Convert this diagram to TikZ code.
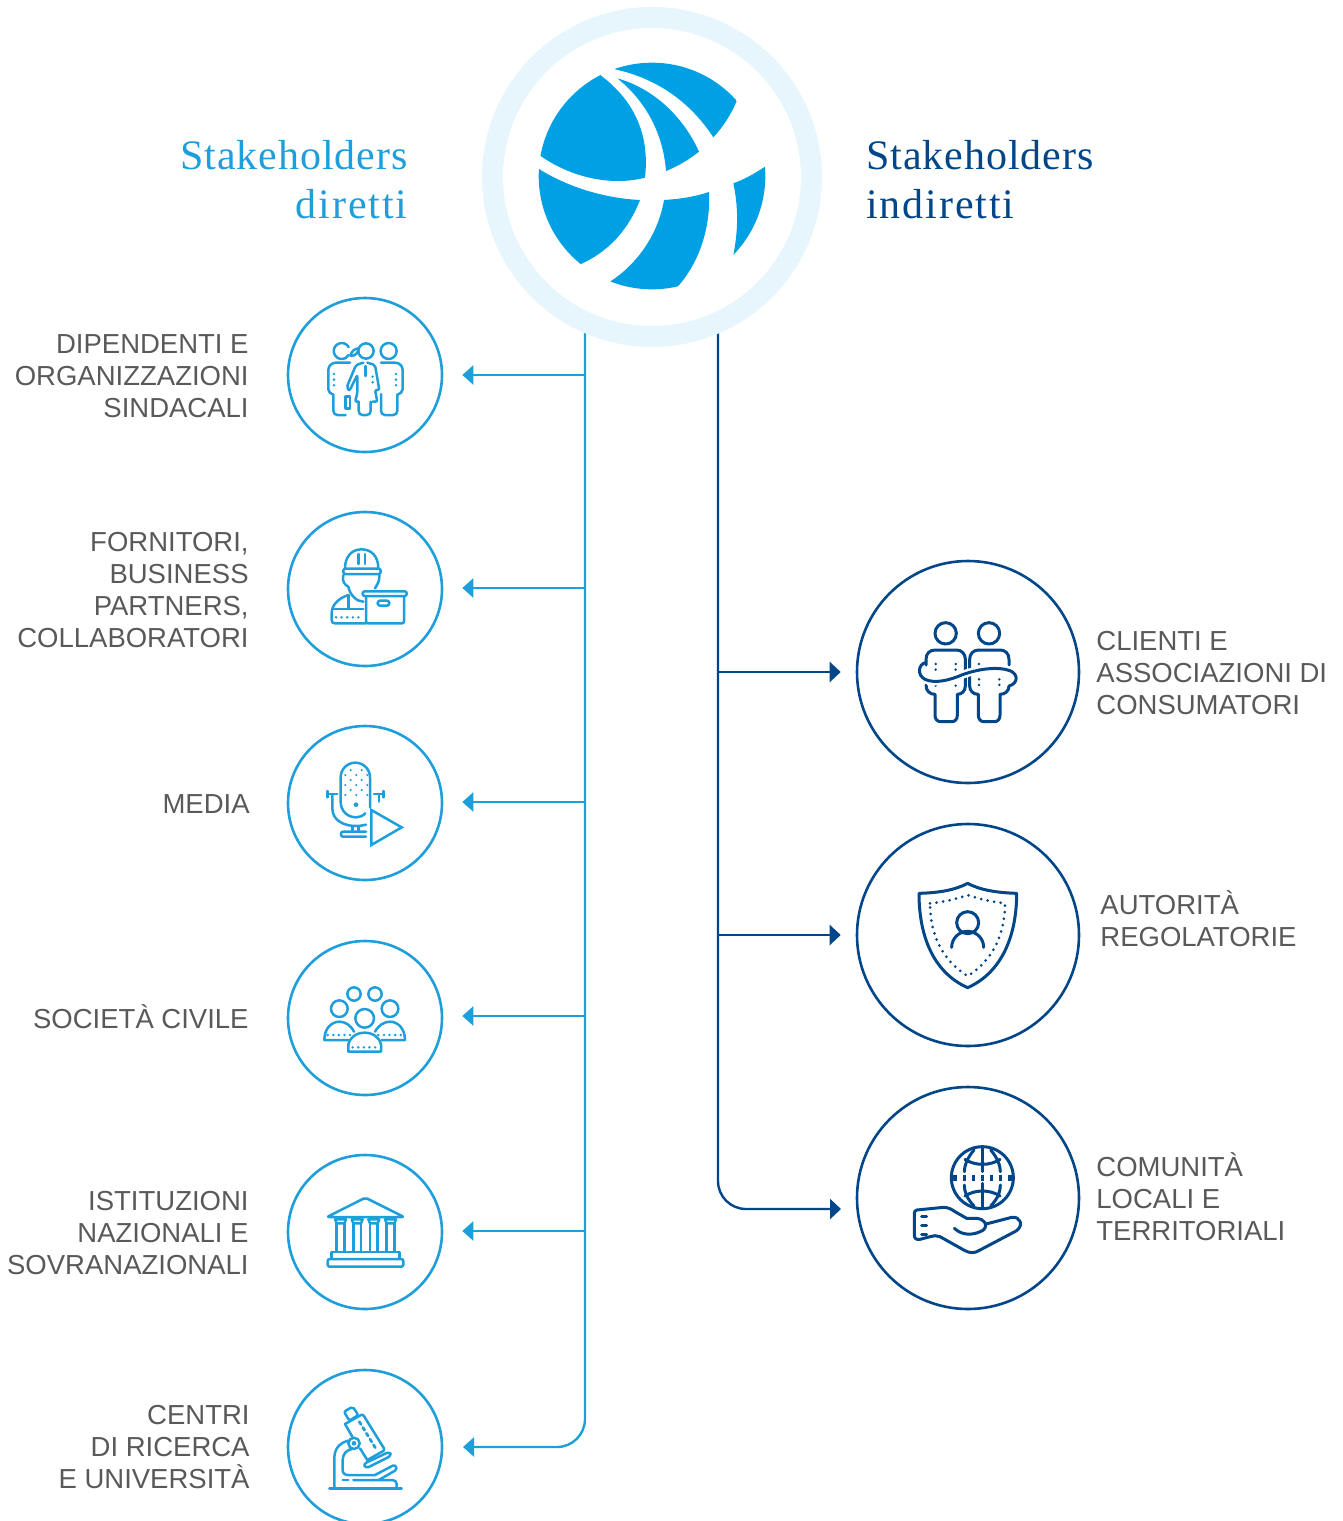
\documentclass[tikz,border=0pt]{standalone}
\usepackage{fontspec}
\setmainfont{Liberation Sans}
\newfontfamily\titolofont[LetterSpace=2.2]{Liberation Serif}
\newfontfamily\sottofont[LetterSpace=4.5]{Liberation Serif}
\usetikzlibrary{arrows.meta,positioning}
\definecolor{celeste}{HTML}{1E9FDB}
\definecolor{blu}{HTML}{004689}
\definecolor{logoblu}{HTML}{00A0E4}
\definecolor{alone}{HTML}{E7F5FD}
\definecolor{grigio}{HTML}{58595B}
\tikzset{
  zoomato/.style 2 args={shift={(#1,#2)},x=0.16667pt,y=-0.16667pt},
  cerchioL/.style={circle,draw=celeste,line width=1.3pt,minimum size=77pt,inner sep=0pt},
  cerchioR/.style={circle,draw=blu,line width=1.3pt,minimum size=111pt,inner sep=0pt},
  anello/.style={circle,draw=alone,line width=10.5pt,minimum size=159.5pt,inner sep=0pt},
  tronco/.style={line width=1.2pt,rounded corners=14pt},
  trattoL/.style={tronco,celeste,-{Triangle[length=5.5pt,width=9.5pt]}},
  trattoR/.style={tronco,blu,-{Triangle[length=5.5pt,width=10pt]}},
  etic/.style={font=\fontsize{13.75}{16}\selectfont,text=grigio,inner sep=0pt},
  eticL/.style={etic,anchor=east,align=right},
  eticR/.style={etic,anchor=west,align=left},
  titolo/.style={font=\fontsize{21}{24.5}\selectfont,inner sep=0pt},
  iconaL/.style={draw=celeste,line width=1.25pt,line cap=round,line join=round},
  iconaR/.style={draw=blu,line width=1.5pt,line cap=round,line join=round},
  puntini/.style={line width=1.4pt,line cap=round,dash pattern=on 0pt off 2.8pt},
}
\begin{document}
\begin{tikzpicture}[x=0.5pt,y=-0.5pt]
\useasboundingbox (0,0) rectangle (1343,1521);

% Tronchi
\coordinate (attL) at (585,333);
\coordinate (attR) at (718,333);
\coordinate (puntaL) at (463,1447);
\coordinate (puntaR) at (841,1209);
\draw[trattoL] (attL) -- (attL |- puntaL) -- (puntaL);
\draw[trattoR] (attR) -- (attR |- puntaR) -- (puntaR);

% Anello e logo
\node[anello] (alo) at (652,177) {};
\begin{scope}[zoomato={470}{0}]
  \clip (546,528) circle (340);
  \fill[logoblu] (435,208) .. controls (560,235) and (660,305) .. (730,412) .. controls (760,380) and (785,340) .. (800,303) -- (800,100) -- (435,100) -- cycle;
  \fill[logoblu] (442,235) .. controls (550,265) and (640,350) .. (687,455) .. controls (655,480) and (625,498) .. (588,513) .. controls (580,405) and (530,305) .. (442,235);
  \fill[logoblu] (392,226) -- (392,100) -- (100,100) -- (100,468) -- (212,468) .. controls (300,530) and (420,560) .. (525,533) .. controls (540,400) and (490,300) .. (392,226);
  \fill[logoblu] (207,507) .. controls (300,565) and (410,595) .. (510,600) .. controls (475,690) and (415,755) .. (333,792) -- (100,792) -- (100,507) -- cycle;
  \fill[logoblu] (582,600) .. controls (630,597) and (675,590) .. (717,576) .. controls (722,680) and (690,785) .. (623,860) -- (623,950) -- (420,950) -- (420,845) .. controls (505,790) and (565,700) .. (582,600);
  \fill[logoblu] (790,550) .. controls (825,537) and (855,520) .. (885,500) -- (950,500) -- (950,765) -- (790,765) .. controls (805,690) and (805,620) .. (790,550);
\end{scope}

% Titoli
\node[titolo,text=celeste,anchor=east,align=right] (titL) at (408,180) {{\titolofont Stakeholders}\\{\sottofont diretti}};
\node[titolo,text=blu,anchor=west,align=left] (titR) at (866,180) {{\titolofont Stakeholders}\\{\sottofont indiretti}};

% Cerchi di sinistra
\foreach \nome/\y/\yb in {dip/375/375,forn/589/588,media/803/802,soc/1018/1016,ist/1232/1231,cen/1447/1447} {
  \node[cerchioL] (\nome) at (365,\y) {};
  \coordinate (t\nome) at (585,\yb);
}
\foreach \nome in {dip,forn,media,soc,ist}
  \draw[trattoL,shorten >=9.5pt] (t\nome) -- (t\nome -| \nome.east);

% Cerchi di destra
\foreach \nome/\y in {cli/672,aut/935,com/1198} {
  \node[cerchioR] (\nome) at (968,\y) {};
}
\coordinate (tcli) at (718,672);
\coordinate (taut) at (718,935);
\draw[trattoR,shorten >=7.5pt] (tcli) -- (cli);
\draw[trattoR,shorten >=7.5pt] (taut) -- (aut);

% Etichette
\node[eticL] (eDip) at (249,376) {DIPENDENTI E\\ORGANIZZAZIONI\\SINDACALI};
\node[eticL] (eForn) at (249,590) {FORNITORI,\\BUSINESS\\PARTNERS,\\COLLABORATORI};
\node[eticL] (eMedia) at (250,804) {MEDIA};
\node[eticL] (eSoc) at (249,1017) {SOCIETÀ CIVILE};
\node[eticL] (eIst) at (249,1233) {ISTITUZIONI\\NAZIONALI E\\SOVRANAZIONALI};
\node[eticL] (eCen) at (250,1447) {CENTRI\\DI RICERCA\\E UNIVERSITÀ};
\node[eticR] (eCli) at (1096,673) {CLIENTI E\\ASSOCIAZIONI DI\\CONSUMATORI};
\node[eticR] (eAut) at (1100,919) {AUTORITÀ\\REGOLATORIE};
\node[eticR] (eCom) at (1096,1197) {COMUNITÀ\\LOCALI E\\TERRITORIALI};

% Icona dipendenti
\begin{scope}[zoomato={280}{290},iconaL]
  \draw (206,171) arc[start angle=-30,end angle=-330,radius=24];
  \draw (258,183) circle (23);
  \draw (326,183) circle (24);
  \draw (212,198) .. controls (212,185) and (225,175) .. (236,175) .. controls (236,188) and (225,198) .. (212,198);
  \draw (210,218) -- (168,218) .. controls (155,218) and (145,228) .. (145,240) -- (145,298) .. controls (145,306) and (152,312) .. (160,314) -- (160,362) .. controls (160,370) and (165,375) .. (172,375) -- (197,375);
  \draw (196,320) rectangle (210,355);
  \draw[rounded corners=1pt] (250,218) -- (228,225) -- (200,292) -- (208,303) -- (232,255) -- (232,310) -- (225,335) -- (236,335);
  \draw (236,335) -- (236,362) .. controls (236,370) and (240,375) .. (248,375) -- (260,375) .. controls (268,375) and (272,370) .. (272,362) -- (272,335);
  \draw[rounded corners=1pt] (262,218) -- (285,225) -- (298,300) -- (285,300) -- (292,335) -- (278,335);
  \draw (257,228) -- (257,258);
  \draw (303,218) -- (345,218) .. controls (358,218) and (368,228) .. (368,240) -- (368,298) .. controls (368,306) and (360,312) .. (352,314) -- (352,362) .. controls (352,370) and (347,375) .. (340,375) -- (315,375) .. controls (308,375) and (303,370) .. (303,362) -- (303,312);
  \draw[puntini] (162,252) -- (162,298);
  \draw[puntini] (278,260) -- (278,292);
  \draw[puntini] (348,252) -- (348,298);
\end{scope}

% Icona fornitori
\begin{scope}[zoomato={280}{290},iconaL]
  \draw (195,835) .. controls (195,800) and (215,778) .. (245,778) .. controls (275,778) and (295,800) .. (295,835);
  \draw[rounded corners=1pt] (190,836) rectangle (302,852);
  \draw (235,792) -- (235,822);
  \draw (255,792) -- (255,822);
  \draw (190,855) .. controls (185,875) and (195,885) .. (205,890) .. controls (210,915) and (230,935) .. (250,935);
  \draw (298,855) .. controls (300,875) and (290,885) .. (285,895);
  \draw (205,915) .. controls (175,925) and (155,945) .. (155,970) -- (155,990) .. controls (155,997) and (158,1000) .. (165,1000) -- (258,1000);
  \draw (205,915) -- (205,955);
  \draw (160,957) -- (250,957);
  \draw[puntini] (168,982) -- (245,982);
  \draw[rounded corners=1pt] (248,904) rectangle (380,918);
  \draw[rounded corners=1pt] (258,918) -- (258,1000) -- (372,1000) -- (372,918);
  \draw[rounded corners=1.2pt] (293,932) rectangle (328,947);
\end{scope}

% Icona media
\begin{scope}[zoomato={280}{720},iconaL]
  \draw (182,245) -- (182,172) arc[start angle=180,end angle=360,radius=44] -- (270,262);
  \draw (182,245) .. controls (182,275) and (205,292) .. (228,292) .. controls (238,292) and (248,288) .. (256,280);
  \foreach \y in {150,180,210} \foreach \x in {212,245} \fill[celeste] (\x,\y) circle (3.5);
  \foreach \y in {165,195,225} \foreach \x in {196,229,262} \fill[celeste] (\x,\y) circle (3.5);
  \fill[celeste] (228,254) circle (7);
  \draw (157,222) -- (157,265) .. controls (157,300) and (190,318) .. (228,318) .. controls (240,318) and (250,316) .. (258,314);
  \draw (297,222) -- (297,245);
  \draw (143,222) -- (172,222) (143,213) -- (143,232);
  \draw (282,222) -- (310,222) (310,213) -- (310,232);
  \draw (218,318) -- (218,335) (235,318) -- (235,335);
  \draw[rounded corners=1pt] (258,335) -- (183,335) -- (183,350) -- (258,350);
  \draw[line join=miter] (274,270) -- (365,322) -- (274,375) -- cycle;
\end{scope}

% Icona societa
\begin{scope}[zoomato={280}{720},iconaL]
  \draw (222,822) circle (20) (285,822) circle (20);
  \draw (178,866) circle (25) (330,866) circle (25);
  \draw (254,895) circle (28);
  \draw (205,960) -- (133,960) .. controls (133,925) and (155,905) .. (178,905) .. controls (195,905) and (212,915) .. (222,935);
  \draw (305,960) -- (375,960) .. controls (375,925) and (353,905) .. (330,905) .. controls (313,905) and (296,915) .. (285,935);
  \draw (205,995) -- (205,975) .. controls (208,952) and (230,938) .. (254,938) .. controls (278,938) and (300,952) .. (303,975) -- (303,995) -- cycle;
  \draw[puntini] (143,945) -- (215,945);
  \draw[puntini] (295,945) -- (366,945);
  \draw[puntini] (218,982) -- (292,982);
\end{scope}

% Icona istituzioni
\begin{scope}[zoomato={280}{1150},iconaL]
  \draw[rounded corners=1pt] (256,143) -- (372,201) -- (141,201) -- cycle;
  \foreach \x in {165,215,265,315} {
    \draw (\x,208) -- (\x+33,208) -- (\x+28,220) -- (\x+5,220) -- cycle;
    \draw (\x+5,220) -- (\x+5,305) (\x+28,220) -- (\x+28,305);
  }
  \draw (155,325) -- (155,306) -- (358,306) -- (358,325);
  \draw[rounded corners=1pt] (143,327) rectangle (370,350);
\end{scope}

% Icona ricerca
\begin{scope}[zoomato={280}{1150},iconaL]
  \draw[rounded corners=1pt] (192,785) -- (218,770) -- (235,795) -- (208,812) -- cycle;
  \draw[rounded corners=1pt] (195,822) -- (248,792) -- (315,900) -- (262,930);
  \draw (195,822) -- (217,860) (240,895) -- (262,930);
  \draw[rounded corners=1.5pt] (250,942) -- (328,905) -- (334,917) -- (258,955) -- cycle;
  \draw[line width=1.4pt,dash pattern=on 1.6pt off 1.8pt] (238,815) -- (290,900);
  \draw (222,880) circle (17);
  \fill[celeste] (222,880) circle (7);
  \draw (205,872) .. controls (180,878) and (163,895) .. (163,925) -- (163,1015);
  \draw (215,897) .. controls (200,900) and (188,912) .. (188,930) -- (188,960) .. controls (188,970) and (195,975) .. (205,975) -- (285,975) -- (338,947) .. controls (347,943) and (354,955) .. (345,962) -- (296,990);
  \draw (188,990) -- (205,990);
  \draw[rounded corners=2pt] (220,990) -- (350,990) -- (350,1015);
  \draw (148,1015) -- (365,1015);
\end{scope}

% Icona clienti
\begin{scope}[zoomato={890}{600},iconaR]
  \draw (167,100) circle (32) (297,100) circle (32);
  \draw (108,195) -- (108,178) .. controls (108,160) and (120,150) .. (135,150) -- (200,150) .. controls (215,150) and (226,162) .. (226,178) -- (226,258) .. controls (226,273) and (215,283) .. (202,283) -- (202,345) .. controls (202,358) and (195,365) .. (185,365) -- (152,365) .. controls (142,365) and (135,358) .. (135,345) -- (135,283) .. controls (120,283) and (108,273) .. (108,255);
  \draw (357,195) -- (357,178) .. controls (357,160) and (345,150) .. (330,150) -- (265,150) .. controls (250,150) and (239,162) .. (239,178) -- (239,258) .. controls (239,273) and (250,283) .. (265,283) -- (265,345) .. controls (265,358) and (272,365) .. (282,365) -- (313,365) .. controls (323,365) and (330,358) .. (330,345) -- (330,283) .. controls (345,283) and (357,273) .. (357,258);
  \draw[puntini] (137,192) -- (137,214);
  \draw[puntini] (197,192) -- (197,214);
  \draw[puntini] (267,238) -- (267,258);
  \draw[puntini] (328,238) -- (328,258);
  \fill[blu] (137,257) circle (4) (197,257) circle (4) (267,192) circle (4);
  \draw[white,line width=4pt] (105,238) .. controls (135,252) and (180,240) .. (215,225) .. controls (260,208) and (320,198) .. (360,212);
  \draw (107,188) .. controls (85,192) and (80,225) .. (105,238) .. controls (135,252) and (180,240) .. (215,225) .. controls (260,208) and (320,198) .. (360,212) .. controls (385,222) and (385,250) .. (357,258);
\end{scope}

% Icona autorita
\begin{scope}[zoomato={890}{600},iconaR]
  \draw (87,880) .. controls (150,878) and (195,870) .. (233,850) .. controls (270,870) and (320,878) .. (380,880) .. controls (380,1000) and (340,1115) .. (233,1163) .. controls (125,1115) and (87,1000) .. (87,880) -- cycle;
  \draw[puntini,line width=1.5pt,dash pattern=on 0pt off 3.3pt] (120,910) .. controls (170,905) and (205,895) .. (233,885) .. controls (262,895) and (300,905) .. (345,910) .. controls (345,1000) and (310,1080) .. (233,1128) .. controls (155,1080) and (120,1000) .. (120,910);
  \draw (233,968) circle (33);
  \draw (185,1042) arc[start angle=180,end angle=360,radius=48];
\end{scope}

% Icona comunita
\begin{scope}[zoomato={700}{1120},iconaR]
  \draw (847,173) circle (93);
  \draw (847,82) -- (847,155) (847,190) -- (847,265);
  \draw (795,118) .. controls (825,138) and (870,138) .. (900,118);
  \draw (795,228) .. controls (825,208) and (870,208) .. (900,228);
  \draw (822,90) .. controls (800,115) and (793,140) .. (793,155);
  \draw (872,90) .. controls (894,115) and (901,140) .. (901,155);
  \draw (793,195) .. controls (793,215) and (800,235) .. (822,258);
  \draw (901,195) .. controls (901,215) and (894,235) .. (872,258);
  \foreach \x in {765,793,820,847,874,901,930} \draw[line width=1.6pt,line cap=butt] (\x,164) -- (\x,182);
  \draw (650,270) -- (730,262) .. controls (745,262) and (755,268) .. (765,275) -- (800,295) -- (830,295) .. controls (855,298) and (865,315) .. (850,330) .. controls (825,345) and (790,350) .. (763,325);
  \draw (858,312) -- (935,292) .. controls (960,288) and (972,315) .. (950,332) -- (840,390) .. controls (825,400) and (810,400) .. (795,392) -- (720,350) .. controls (710,346) and (700,346) .. (690,350) -- (660,358) .. controls (648,360) and (643,355) .. (643,345) -- (643,285) .. controls (643,275) and (645,270) .. (650,270);
  \draw (665,288) -- (680,288) (665,315) -- (680,315) (665,342) -- (680,342);
\end{scope}
\end{tikzpicture}
\end{document}
